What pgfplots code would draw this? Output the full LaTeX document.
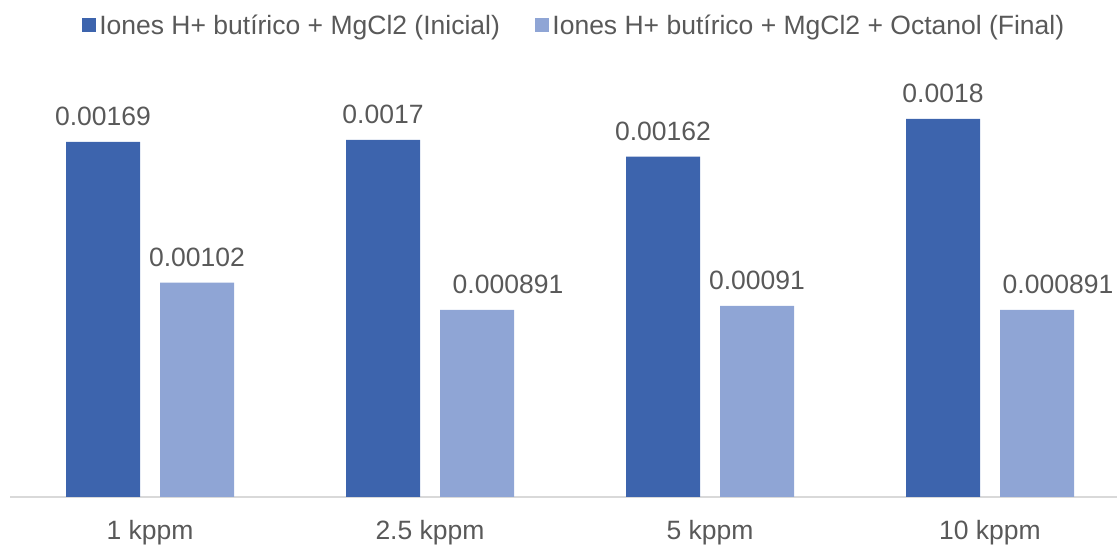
\documentclass[border=0pt]{standalone}
\usepackage{pgfplots}
\pgfplotsset{compat=1.18}
\usepackage{pgfplotstable}
\usepackage{fontspec}
\setmainfont{Liberation Sans}
\definecolor{darkb}{HTML}{3D64AD}
\definecolor{lightb}{HTML}{8FA5D5}
\definecolor{txt}{HTML}{595959}
\definecolor{axl}{HTML}{D9D9D9}
\pgfplotstableread{
x y lab dx
0 0.00169 0.00169 0
1 0.0017 0.0017 0
2 0.00162 0.00162 0
3 0.0018 0.0018 0
}\dataA
\pgfplotstableread{
x y lab dx
0 0.00102 0.00102 0
1 0.000891 0.000891 31
2 0.00091 0.00091 0
3 0.000891 0.000891 21
}\dataB
\begin{document}
\begin{tikzpicture}[x=1pt,y=1pt]
\path[use as bounding box] (0,0) rectangle (1117,546);
\begin{axis}[
  at={(10pt,49pt)}, anchor=south west,
  width=1120pt, height=437pt, scale only axis,
  xmin=-0.5, xmax=3.5, ymin=0, ymax=0.00208,
  enlargelimits=false, clip=false,
  axis x line*=bottom, axis y line=none,
  x axis line style={draw=axl, line width=1.5pt},
  xtick={0,1,2,3},
  xticklabels={1 kppm, 2.5 kppm, 5 kppm, 10 kppm},
  major tick length=0pt,
  ytick=\empty,
  xticklabel style={font=\fontsize{26.5}{30}\selectfont, text=txt, inner sep=0pt, anchor=north, yshift=-23pt},
  ybar=20pt, bar width=74pt,
  nodes near coords, point meta=explicit symbolic,
  visualization depends on={\thisrow{dx} \as \labdx},
  every node near coord/.append style={font=\fontsize{26.5}{30}\selectfont, text=txt, inner sep=0pt, anchor=south, yshift=16pt, xshift=\labdx pt},
  legend columns=2,
  legend style={at={(0.5045,1.08)}, anchor=center, draw=none, fill=none,
    font=\fontsize{26.5}{30}\selectfont, text=txt,
    nodes={inner sep=3.5pt},
    /tikz/every even column/.append style={column sep=32pt}},
  legend image code/.code={\draw[#1, draw=none] (0pt,-6.5pt) rectangle (13.5pt,7pt);},
]
\addplot[fill=darkb, draw=none] table[x=x, y=y, meta=lab]{\dataA};
\addplot[fill=lightb, draw=none] table[x=x, y=y, meta=lab]{\dataB};
\legend{Iones H+ butírico + MgCl2 (Inicial), Iones H+ butírico + MgCl2 + Octanol (Final)}
\end{axis}
\end{tikzpicture}
\end{document}
